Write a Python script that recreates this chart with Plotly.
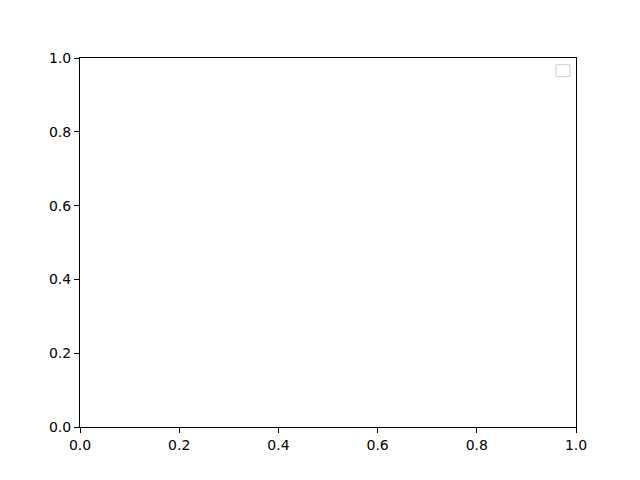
import plotly.graph_objects as go

# Empty axes: only the tick grid is data-like
x_ticks = [0.0, 0.2, 0.4, 0.6, 0.8, 1.0]
y_ticks = [0.0, 0.2, 0.4, 0.6, 0.8, 1.0]
x_range = [0.0, 1.0]
y_range = [0.0, 1.0]

fig = go.Figure()

axis_style = dict(
    showline=True,
    linecolor='black',
    linewidth=1,
    mirror=True,
    ticks='outside',
    ticklen=5,
    tickwidth=1,
    tickcolor='black',
    showgrid=False,
    zeroline=False,
    tickformat='.1f',
    tickfont=dict(family='DejaVu Sans', size=14, color='black'),
)

fig.update_xaxes(range=x_range, tickvals=x_ticks, **axis_style)
fig.update_yaxes(range=y_range, tickvals=y_ticks, **axis_style)

# empty legend frame, top right
fig.add_shape(
    type='rect', xref='paper', yref='paper',
    x0=0.9597, x1=0.9879, y0=0.9493, y1=0.9818,
    line=dict(color='#cccccc', width=1), fillcolor='white',
)

# page puts the plot 8px in from the top-left, so margins are shifted to match
fig.update_layout(
    width=640,
    height=480,
    margin=dict(l=72, r=72, t=50, b=61),
    paper_bgcolor='white',
    plot_bgcolor='white',
    showlegend=False,
)

fig.write_html("out.html")
